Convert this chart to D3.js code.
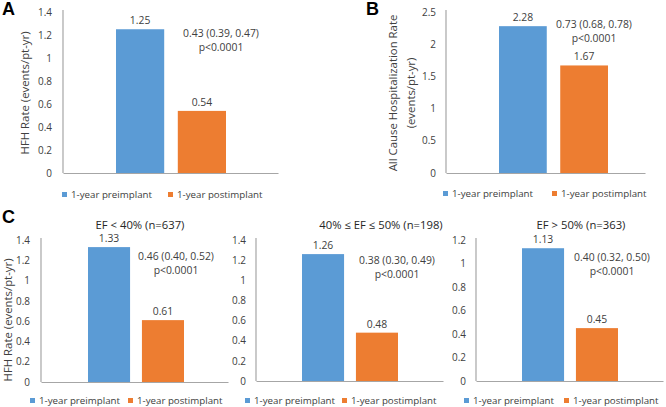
<!DOCTYPE html>
<html><head><meta charset="utf-8">
<script src="https://cdn.jsdelivr.net/npm/d3@7"></script>
<style>body{margin:0;background:#fff}svg{display:block;font-family:"Open Sans",sans-serif}</style>
</head><body><svg id="c" width="666" height="407"></svg>
<script>
const categories = ["1-year preimplant", "1-year postimplant"];
const colors = ["#5B9BD5", "#ED7D31"];
const valuesA = [1.25, 0.54];
const valuesB = [2.28, 1.67];
const valuesC1 = [1.33, 0.61];
const valuesC2 = [1.26, 0.48];
const valuesC3 = [1.13, 0.45];
const ticksHFH = [0, 0.2, 0.4, 0.6, 0.8, 1, 1.2, 1.4];
const ticksB = [0, 0.5, 1, 1.5, 2, 2.5];
const ticksC3 = [0, 0.2, 0.4, 0.6, 0.8, 1, 1.2];
const annotA = ["0.43 (0.39, 0.47)", "p<0.0001"];
const annotB = ["0.73 (0.68, 0.78)", "p<0.0001"];
const annotC1 = ["0.46 (0.40, 0.52)", "p<0.0001"];
const annotC2 = ["0.38 (0.30, 0.49)", "p<0.0001"];
const annotC3 = ["0.40 (0.32, 0.50)", "p<0.0001"];
const titlesC = ["EF < 40% (n=637)", "40% \u2264 EF \u2264 50% (n=198)", "EF > 50% (n=363)"];

const svg = d3.select("#c");
const txt = "#404040";

// font sizes chosen so that sample strings get the reference's widths
function fitSize(str, target, family) {
  const t = svg.append("text").style("font-family", family).style("font-size", "20px").text(str);
  const w = t.node().getComputedTextLength();
  t.remove();
  return 20 * target / w;
}
const FAM = "'Open Sans',sans-serif";
const fsLeg = fitSize("1-year preimplant", 81, FAM);
const fsAnn = fitSize("0.43 (0.39, 0.47)", 76, FAM);
const fsVal = fitSize("1.25", 20.5, FAM);
const fsTick = fitSize("0.8", 14, FAM);
const fsYl = fitSize("HFH Rate (events/pt-yr)", 123, FAM);
const fsTitle = fitSize("EF < 40% (n=637)", 89, FAM);

function panel(o) {
  const g = svg.append("g");
  const y = d3.scaleLinear().domain([0, d3.max(o.ticks)]).range([o.y0, o.y1]);
  const x = d3.scaleBand().domain(categories).range(o.bars).paddingInner(0.22).paddingOuter(0);
  const ya = d3.axisLeft(y).tickValues(o.ticks).tickSize(0).tickPadding(0)
    .tickFormat(d => String(+d.toFixed(1)));
  const yg = g.append("g").attr("transform", `translate(${o.tickX},0)`).call(ya);
  yg.select(".domain").remove();
  yg.selectAll("text").attr("fill", txt).style("font-size", fsTick + "px").style("font-family", FAM);
  g.append("line").attr("x1", o.axisL).attr("x2", o.axisL).attr("y1", y.range()[1] - 2).attr("y2", o.y0)
    .attr("stroke", "#a6a6a6").attr("stroke-width", 1.2);
  const xa = d3.axisBottom(d3.scaleLinear().range([o.axisL, o.axisR])).ticks(0).tickSize(0);
  const xg = g.append("g").attr("transform", `translate(0,${o.y0})`).call(xa);
  xg.select(".domain").attr("stroke", "#a6a6a6").attr("stroke-width", 1.2);
  g.selectAll("rect.bar").data(o.values).join("rect").attr("class", "bar")
    .attr("x", (d, i) => x(categories[i])).attr("width", x.bandwidth())
    .attr("y", d => y(d)).attr("height", d => o.y0 - y(d))
    .attr("fill", (d, i) => colors[i]);
  g.selectAll("text.val").data(o.values).join("text").attr("class", "val")
    .attr("x", (d, i) => x(categories[i]) + x.bandwidth() / 2).attr("y", d => y(d) - 5)
    .attr("text-anchor", "middle").attr("fill", txt).style("font-size", fsVal + "px")
    .text(d => d.toFixed(2));
  g.selectAll("text.ann").data(o.annot).join("text").attr("class", "ann")
    .attr("x", o.annX).attr("y", (d, i) => o.annY + i * 14)
    .attr("text-anchor", "middle").attr("fill", txt).style("font-size", fsAnn + "px").text(d => d);
  const yl = g.append("text").attr("transform", `translate(${o.ylX},${o.ylY}) rotate(-90)`)
    .attr("text-anchor", "middle").attr("fill", txt).style("font-size", fsYl + "px");
  o.ylabel.forEach((t, i) => yl.append("tspan").attr("x", 0).attr("dy", i ? 18 : 0).text(t));
  categories.forEach((c, i) => {
    g.append("rect").attr("x", o.leg[i] - 9).attr("y", o.legY - 6).attr("width", 5).attr("height", 5).attr("fill", colors[i]);
    g.append("text").attr("x", o.leg[i]).attr("y", o.legY).attr("fill", txt).style("font-size", fsLeg + "px").text(c);
  });
  if (o.title) g.append("text").attr("x", o.titleX).attr("y", 229).attr("text-anchor", "middle")
    .attr("fill", "#262626").style("font-size", fsTitle + "px").text(o.title);
  if (o.letter) g.append("text").attr("x", o.letter[1]).attr("y", o.letter[2]).attr("fill", "#000")
    .style("font-size", "18px").style("font-weight", "bold").style("font-family", "Arial,'Liberation Sans',sans-serif").text(o.letter[0]);
}

panel({values: valuesA, ticks: ticksHFH, y0: 173, y1: 12, bars: [116, 226], axisL: 63, axisR: 278, tickX: 52,
  annot: annotA, annX: 221, annY: 37, ylabel: ["HFH Rate (events/pt-yr)"], ylX: 29, ylY: 93,
  leg: [71, 177], legY: 198, letter: ["A", 2, 15]});
panel({values: valuesB, ticks: ticksB, y0: 173, y1: 12, bars: [499, 608], axisL: 446, axisR: 645, tickX: 436,
  annot: annotB, annX: 594, annY: 28, ylabel: ["All Cause Hospitalization Rate", "(events/pt-yr)"], ylX: 397, ylY: 93,
  leg: [452, 561], legY: 197, letter: ["B", 366, 15]});
panel({values: valuesC1, ticks: ticksHFH, y0: 382, y1: 240, bars: [88, 184], axisL: 41, axisR: 228, tickX: 30,
  annot: annotC1, annX: 176, annY: 260, ylabel: ["HFH Rate (events/pt-yr)"], ylX: 12, ylY: 320,
  leg: [39, 137], legY: 404, title: titlesC[0], titleX: 140, letter: ["C", 2, 223]});
panel({values: valuesC2, ticks: ticksHFH, y0: 381, y1: 240, bars: [302, 398], axisL: 256, axisR: 443, tickX: 246,
  annot: annotC2, annX: 397, annY: 264, ylabel: [], ylX: 0, ylY: 0,
  leg: [254, 351], legY: 404, title: titlesC[1], titleX: 381});
panel({values: valuesC3, ticks: ticksC3, y0: 381, y1: 240, bars: [522, 618], axisL: 476, axisR: 663, tickX: 466,
  annot: annotC3, annX: 612, annY: 261, ylabel: [], ylX: 0, ylY: 0,
  leg: [473, 573], legY: 404, title: titlesC[2], titleX: 581});
</script></body></html>
